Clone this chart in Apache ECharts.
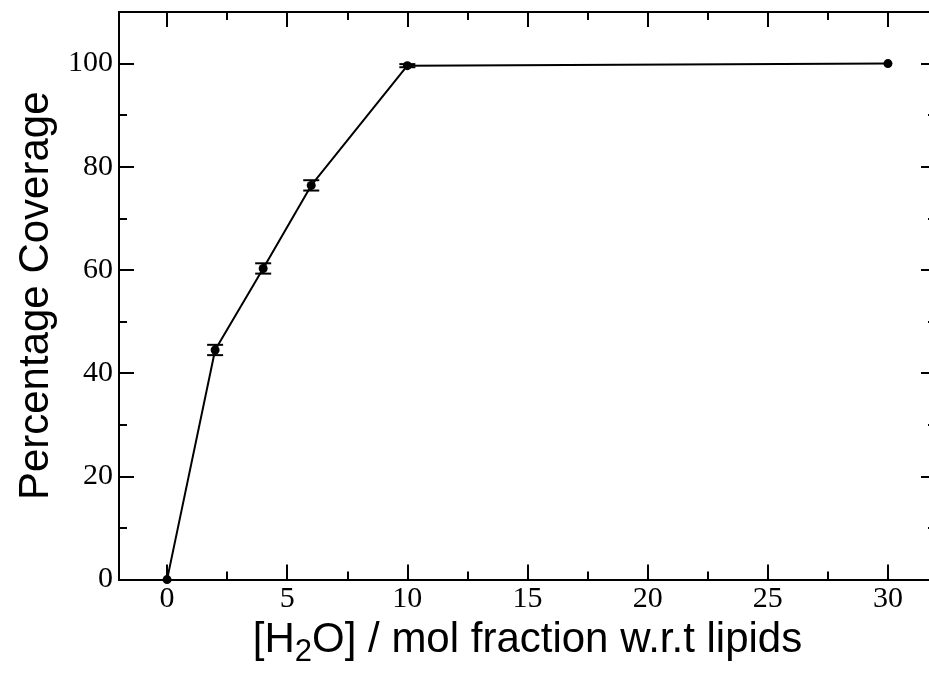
<!DOCTYPE html>
<html>
<head>
<meta charset="utf-8">
<script src="https://cdn.jsdelivr.net/npm/echarts@6/dist/echarts.min.js"></script>
<style>
html,body{margin:0;padding:0;background:#fff;overflow:hidden;width:929px;height:673px;}
#wrap{position:absolute;left:0;top:0;width:929px;height:673px;overflow:hidden;}
#c{position:absolute;left:0;top:0;width:950px;height:673px;}
</style>
</head>
<body>
<div id="wrap"><div id="c"></div></div>
<script>
// Data
const xValues = [0, 2, 4, 6, 10, 30];
const coverage = [0, 44.5, 60.3, 76.4, 99.6, 100];
const errors = [0, 1.0, 1.0, 1.0, 0.3, 0];

// Tick labels / positions
const xMajorTicks = [0, 5, 10, 15, 20, 25, 30];
const xMinorTicks = [2.5, 7.5, 12.5, 17.5, 22.5, 27.5];
const yMajorTicks = [0, 20, 40, 60, 80, 100];
const yMinorTicks = [10, 30, 50, 70, 90];

const X_MIN = -2, X_MAX = 32, Y_MIN = 0, Y_MAX = 110;

const lineData = xValues.map((x, i) => [x, coverage[i]]);
const errData = xValues.map((x, i) => [x, coverage[i], errors[i]]).filter(d => d[2] > 0);

const serif = 'Liberation Serif';
const sans = 'Liberation Sans';
const black = '#000';

function mkX(position, ticks, len, showLabel, extra) {
  return Object.assign({
    type: 'value', position: position, min: X_MIN, max: X_MAX,
    axisLine: { show: true, onZero: false, lineStyle: { color: black, width: 2 } },
    axisTick: { show: true, inside: true, length: len, customValues: ticks, lineStyle: { color: black, width: 2 } },
    axisLabel: showLabel ? { show: true, customValues: ticks, fontFamily: serif, fontSize: 30, color: black, margin: 5 } : { show: false },
    splitLine: { show: false }, minorTick: { show: false }
  }, extra || {});
}
function mkY(position, ticks, len, showLabel, extra) {
  return Object.assign({
    type: 'value', position: position, min: Y_MIN, max: Y_MAX,
    axisLine: { show: true, onZero: false, lineStyle: { color: black, width: 2 } },
    axisTick: { show: true, inside: true, length: len, customValues: ticks, lineStyle: { color: black, width: 2 } },
    axisLabel: showLabel ? { show: true, customValues: ticks, fontFamily: serif, fontSize: 30, color: black, margin: 6 } : { show: false },
    splitLine: { show: false }, minorTick: { show: false }
  }, extra || {});
}

const chart = echarts.init(document.getElementById('c'), null, { renderer: 'canvas', width: 950, height: 673 });
chart.setOption({
  animation: false,
  backgroundColor: '#fff',
  grid: { left: 119, top: 12, width: 817, height: 571, containLabel: false },
  xAxis: [
    mkX('bottom', xMajorTicks, 15, true, {
      name: '[H{sub|2}O] / mol fraction w.r.t lipids',
      nameLocation: 'middle', nameGap: 29,
      nameTextStyle: {
        fontFamily: sans, fontSize: 42, color: black,
        rich: { sub: { fontFamily: sans, fontSize: 31, color: black, verticalAlign: 'top', padding: [24, 0, 0, 0] } }
      }
    }),
    mkX('bottom', xMinorTicks, 8, false),
    mkX('top', xMajorTicks, 15, false),
    mkX('top', xMinorTicks, 8, false)
  ],
  yAxis: [
    mkY('left', yMajorTicks, 15, true, {
      name: 'Percentage Coverage', nameLocation: 'middle', nameGap: 57, nameRotate: 90,
      nameTextStyle: { fontFamily: sans, fontSize: 42, color: black }
    }),
    mkY('left', yMinorTicks, 8, false),
    mkY('right', yMajorTicks, 15, false),
    mkY('right', yMinorTicks, 8, false)
  ],
  series: [
    {
      type: 'custom', xAxisIndex: 0, yAxisIndex: 0, z: 3,
      data: errData,
      encode: { x: 0, y: 1 },
      renderItem: function (params, api) {
        const x = api.value(0), y = api.value(1), e = api.value(2);
        const lo = api.coord([x, y - e]);
        const hi = api.coord([x, y + e]);
        const hw = 8;
        const st = { stroke: black, lineWidth: 2 };
        return {
          type: 'group',
          children: [
            { type: 'line', shape: { x1: lo[0], y1: lo[1], x2: hi[0], y2: hi[1] }, style: st },
            { type: 'line', shape: { x1: lo[0] - hw, y1: lo[1], x2: lo[0] + hw, y2: lo[1] }, style: st },
            { type: 'line', shape: { x1: hi[0] - hw, y1: hi[1], x2: hi[0] + hw, y2: hi[1] }, style: st }
          ]
        };
      }
    },
    {
      type: 'line', xAxisIndex: 0, yAxisIndex: 0, z: 4,
      data: lineData,
      symbol: 'circle', symbolSize: 9, showSymbol: true,
      lineStyle: { color: black, width: 2 },
      itemStyle: { color: black }
    }
  ]
});
</script>
</body>
</html>
